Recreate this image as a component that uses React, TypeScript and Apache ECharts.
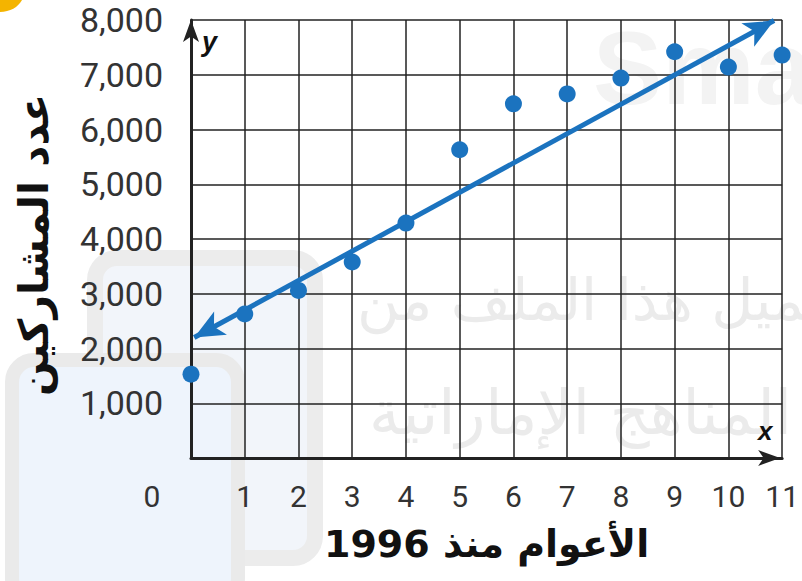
import React, { useEffect, useRef } from "react";
import * as echarts from "echarts";

const years = [0, 1, 2, 3, 4, 5, 6, 7, 8, 9, 10, 11];
const participants = [1530, 2630, 3060, 3580, 4290, 5630, 6470, 6650, 6940, 7420, 7140, 7360];
const fitX = [0.06, 10.85];
const fitY = [2200, 7990];
const yTicks = ["", "1,000", "2,000", "3,000", "4,000", "5,000", "6,000", "7,000", "8,000"];

const BLUE = "#1b73bf";
const NUM_FONT = "Roboto, 'Liberation Sans', sans-serif";
const AR_FONT = "'DejaVu Sans', sans-serif";

export default function App() {
  const ref = useRef<HTMLDivElement>(null);
  useEffect(() => {
    if (!ref.current) return;
    const chart = echarts.init(ref.current, null, { renderer: "svg" });
    chart.setOption({
      animation: false,
      backgroundColor: "#ffffff",
      grid: { left: 191, right: 15, top: 20, bottom: 123, containLabel: false },
      graphic: [
        {
          type: "ellipse",
          z: -10,
          silent: true,
          shape: { cx: 0, cy: -8, rx: 24, ry: 20 },
          style: { fill: "#f4b400" },
        },
        {
          type: "text",
          z: -10,
          silent: true,
          x: 593,
          y: 68,
          style: {
            text: "Sma",
            font: "bold 104px 'Liberation Sans', sans-serif",
            fill: "#f3f3f3",
            verticalAlign: "middle",
            align: "left",
          },
        },
        {
          type: "rect",
          z: -10,
          silent: true,
          shape: { x: 95, y: 258, width: 220, height: 300, r: 22 },
          style: { fill: "#f2f5fa", stroke: "#ececec", lineWidth: 16 },
        },
        {
          type: "rect",
          z: -9,
          silent: true,
          shape: { x: 12, y: 360, width: 226, height: 240, r: 22 },
          style: { fill: "#eef4fc", stroke: "#eaeaea", lineWidth: 14 },
        },
        {
          type: "text",
          z: -8,
          silent: true,
          x: 357,
          y: 300,
          style: {
            text: "تحميل هذا الملف من",
            font: "58px 'DejaVu Sans', sans-serif",
            fill: "#ebebeb",
            verticalAlign: "middle",
            align: "left",
          },
        },
        {
          type: "text",
          z: -8,
          silent: true,
          x: 792,
          y: 412,
          style: {
            text: "المناهج الإماراتية",
            font: "62px 'DejaVu Sans', sans-serif",
            fill: "#ebebeb",
            verticalAlign: "middle",
            align: "right",
          },
        },
        {
          type: "text",
          left: 202,
          top: 28,
          style: { text: "y", font: "italic bold 27px 'Liberation Sans', sans-serif", fill: "#111" },
        },
        {
          type: "text",
          left: 758,
          top: 418,
          style: { text: "x", font: "italic bold 26px 'Liberation Sans', sans-serif", fill: "#111" },
        },
      ],
      xAxis: {
        type: "value",
        min: 0,
        max: 11,
        interval: 1,
        name: "الأعوام منذ 1996",
        nameLocation: "middle",
        nameGap: 67,
        nameTextStyle: { fontFamily: AR_FONT, fontWeight: "bold", fontSize: 38, color: "#111" },
        axisLine: {
          show: true,
          symbol: ["none", "arrow"],
          symbolSize: [12, 22],
          symbolOffset: [0, -2],
          lineStyle: { color: "#222", width: 3 },
        },
        axisTick: { show: false },
        axisLabel: {
          margin: 23,
          fontFamily: NUM_FONT,
          fontSize: 30,
          color: "#333",
          formatter: (v: number) => (v === 0 ? "{z|0}" : String(v)),
          rich: { z: { fontFamily: NUM_FONT, fontSize: 30, color: "#333", padding: [0, 78, 0, 0] } },
        },
        splitLine: { show: true, lineStyle: { color: "#222", width: 1.5 } },
      },
      yAxis: {
        type: "value",
        min: 0,
        max: 8000,
        interval: 1000,
        name: "عدد المشاركين",
        nameLocation: "middle",
        nameRotate: 90,
        nameGap: 137,
        nameTextStyle: { fontFamily: AR_FONT, fontWeight: "bold", fontSize: 41, color: "#111", padding: [0, 12, 0, 0] },
        axisLine: {
          show: true,
          symbol: ["none", "arrow"],
          symbolSize: [12, 22],
          lineStyle: { color: "#222", width: 3 },
        },
        axisTick: { show: false },
        axisLabel: {
          margin: 28,
          fontFamily: NUM_FONT,
          fontSize: 34,
          color: "#333",
          formatter: (v: number) => yTicks[Math.round(v / 1000)] ?? "",
        },
        splitLine: { show: true, lineStyle: { color: "#222", width: 1.5 } },
      },
      series: [
        {
          type: "scatter",
          data: years.map((x, i) => [x, participants[i]]),
          symbolSize: 17,
          itemStyle: { color: BLUE, opacity: 1 },
          z: 5,
          markLine: {
            silent: true,
            symbol: ["arrow", "arrow"],
            symbolSize: [20, 30],
            label: { show: false },
            lineStyle: { color: BLUE, width: 5, type: "solid" },
            data: [[{ coord: [fitX[0], fitY[0]] }, { coord: [fitX[1], fitY[1]] }]],
          },
        },
      ],
    });
    return () => chart.dispose();
  }, []);
  return <div ref={ref} style={{ position: "fixed", left: 0, top: 0, width: 802, height: 581 }} />;
}
